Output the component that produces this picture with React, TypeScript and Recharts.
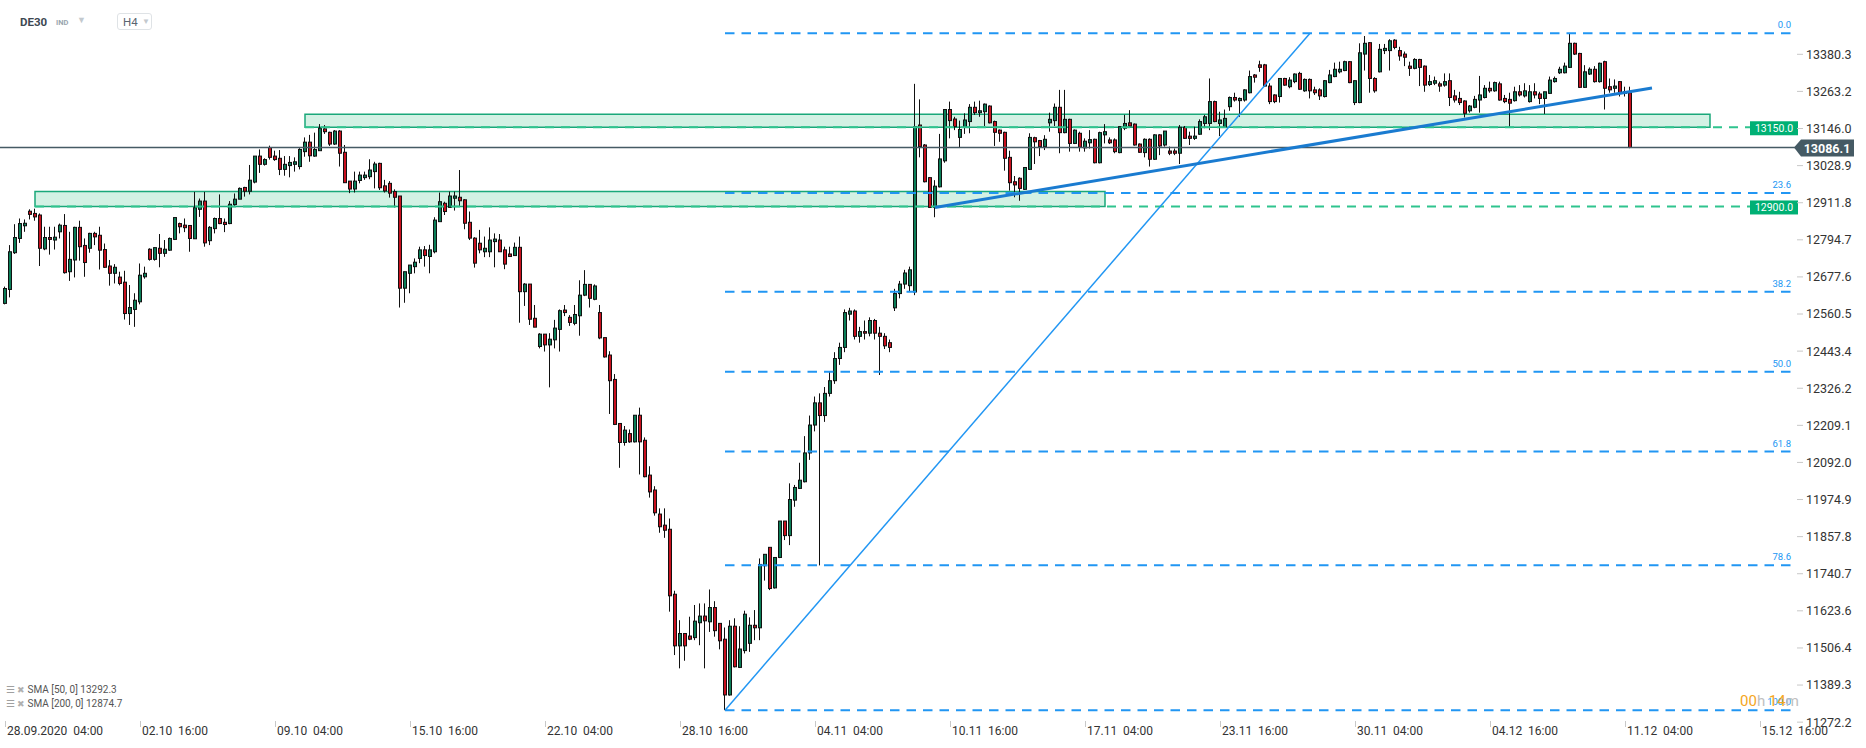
import React from 'react'
import { ComposedChart, Bar, XAxis, YAxis, ReferenceLine, ReferenceArea } from 'recharts'

type Ohlc = [number, number, number, number] // open, high, low, close

// H4 candles, one array per x-axis label interval (27 bars each)
const from2809: Ohlc[] = [
  [12594, 12647, 12591, 12641], [12638, 12778, 12613, 12757], [12754, 12844, 12750, 12802],
  [12799, 12862, 12785, 12846], [12839, 12859, 12820, 12847], [12885, 12891, 12859, 12875],
  [12878, 12893, 12855, 12867], [12873, 12878, 12712, 12768], [12766, 12836, 12762, 12802],
  [12802, 12836, 12748, 12796], [12794, 12836, 12764, 12803], [12820, 12846, 12799, 12841],
  [12840, 12876, 12688, 12691], [12694, 12820, 12665, 12733], [12731, 12836, 12676, 12834],
  [12834, 12855, 12729, 12773], [12777, 12799, 12678, 12723], [12768, 12817, 12754, 12815],
  [12815, 12820, 12778, 12804], [12809, 12836, 12701, 12762], [12764, 12783, 12706, 12708],
  [12712, 12731, 12650, 12689], [12689, 12718, 12657, 12708], [12677, 12694, 12651, 12657],
  [12661, 12697, 12543, 12562], [12562, 12652, 12526, 12581], [12575, 12626, 12520, 12604],
]
const from0210: Ohlc[] = [
  [12599, 12720, 12591, 12683], [12678, 12710, 12672, 12689], [12765, 12768, 12729, 12733],
  [12733, 12771, 12729, 12770], [12768, 12813, 12708, 12752], [12752, 12794, 12741, 12765],
  [12762, 12802, 12760, 12799], [12796, 12865, 12794, 12865], [12846, 12849, 12815, 12836],
  [12841, 12862, 12819, 12833], [12840, 12841, 12757, 12799], [12798, 12946, 12798, 12896],
  [12891, 12925, 12867, 12917], [12917, 12946, 12773, 12785], [12792, 12838, 12778, 12834],
  [12830, 12865, 12815, 12862], [12862, 12938, 12844, 12846], [12850, 12862, 12819, 12843],
  [12846, 12917, 12844, 12907], [12906, 12941, 12899, 12923], [12923, 12960, 12923, 12957],
  [12960, 12962, 12931, 12948], [12948, 13031, 12938, 12983], [12977, 13059, 12973, 13059],
  [13059, 13080, 13006, 13033], [13033, 13052, 13029, 13048], [13086, 13092, 13048, 13055],
]
const from0910: Ohlc[] = [
  [13059, 13076, 13044, 13048], [13052, 13078, 12999, 13017], [13017, 13059, 12997, 13033],
  [13029, 13059, 12992, 13039], [13033, 13055, 13010, 13041], [13026, 13084, 13017, 13080],
  [13073, 13118, 13057, 13103], [13103, 13126, 13041, 13060], [13059, 13133, 13057, 13080],
  [13076, 13160, 13076, 13147], [13145, 13157, 13129, 13136], [13134, 13136, 13091, 13097],
  [13097, 13141, 13094, 13138], [13138, 13141, 13026, 13068], [13071, 13094, 12975, 12975],
  [12980, 12980, 12942, 12955], [12955, 13010, 12944, 12980], [12982, 13010, 12973, 12999],
  [12991, 13010, 12984, 12999], [12994, 13049, 12986, 13015], [13010, 13041, 12957, 13034],
  [13036, 13038, 12952, 12959], [12965, 12984, 12944, 12949], [12973, 12980, 12928, 12942],
  [12947, 12954, 12897, 12929], [12933, 12933, 12581, 12642], [12642, 12694, 12596, 12694],
]
const from1510: Ohlc[] = [
  [12689, 12715, 12626, 12715], [12710, 12736, 12689, 12724], [12736, 12773, 12721, 12763],
  [12763, 12775, 12710, 12745], [12742, 12779, 12689, 12763], [12757, 12866, 12752, 12857],
  [12852, 12944, 12852, 12915], [12910, 12915, 12873, 12884], [12897, 12947, 12897, 12933],
  [12926, 12947, 12887, 12933], [12929, 13015, 12899, 12918], [12921, 12923, 12828, 12847],
  [12850, 12884, 12794, 12800], [12800, 12803, 12707, 12721], [12784, 12826, 12752, 12763],
  [12757, 12805, 12740, 12768], [12757, 12834, 12740, 12794], [12789, 12815, 12708, 12797],
  [12794, 12813, 12757, 12757], [12763, 12773, 12702, 12718], [12750, 12773, 12742, 12742],
  [12745, 12786, 12745, 12771], [12771, 12805, 12533, 12631], [12631, 12658, 12586, 12655],
  [12655, 12655, 12526, 12544], [12547, 12589, 12519, 12519], [12458, 12500, 12452, 12497],
]
const from2210: Ohlc[] = [
  [12497, 12497, 12442, 12463], [12463, 12500, 12329, 12481], [12479, 12542, 12452, 12516],
  [12512, 12575, 12442, 12571], [12573, 12589, 12554, 12565], [12550, 12557, 12523, 12534],
  [12531, 12589, 12525, 12559], [12555, 12667, 12492, 12620], [12620, 12699, 12617, 12654],
  [12654, 12654, 12581, 12610], [12607, 12654, 12604, 12649], [12565, 12589, 12481, 12485],
  [12486, 12486, 12423, 12425], [12431, 12443, 12245, 12350], [12354, 12371, 12210, 12212],
  [12215, 12215, 12075, 12155], [12155, 12207, 12145, 12194], [12183, 12196, 12154, 12157],
  [12157, 12241, 12155, 12241], [12241, 12265, 12054, 12157], [12162, 12171, 12045, 12047],
  [12052, 12080, 11981, 11999], [12005, 12017, 11924, 11933], [11929, 11947, 11870, 11889],
  [11894, 11947, 11854, 11878], [11881, 11915, 11621, 11671], [11676, 11687, 11484, 11513],
]
const from2810: Ohlc[] = [
  [11513, 11594, 11442, 11552], [11552, 11552, 11466, 11513], [11544, 11605, 11531, 11534],
  [11539, 11642, 11531, 11591], [11586, 11647, 11515, 11607], [11607, 11647, 11442, 11592],
  [11589, 11691, 11557, 11634], [11634, 11654, 11542, 11561], [11584, 11584, 11502, 11529],
  [11534, 11571, 11310, 11358], [11358, 11594, 11356, 11575], [11575, 11600, 11445, 11447],
  [11445, 11575, 11443, 11503], [11498, 11624, 11489, 11613], [11521, 11603, 11494, 11578],
  [11578, 11626, 11531, 11570], [11570, 11789, 11531, 11770], [11766, 11802, 11719, 11802],
  [11824, 11824, 11689, 11694], [11696, 11792, 11694, 11792], [11792, 11907, 11790, 11907],
  [11907, 11907, 11847, 11861], [11861, 12026, 11831, 11975], [11973, 12021, 11952, 12013],
  [12010, 12091, 12008, 12036], [12031, 12175, 12029, 12122], [12122, 12240, 12100, 12210],
]
const from0411: Ohlc[] = [
  [12210, 12300, 12190, 12280], [12280, 12310, 11767, 12240], [12240, 12330, 12220, 12310],
  [12310, 12380, 12300, 12350], [12350, 12440, 12340, 12420], [12420, 12470, 12400, 12455],
  [12455, 12575, 12440, 12565], [12560, 12580, 12540, 12570], [12570, 12575, 12480, 12490],
  [12490, 12520, 12470, 12505], [12505, 12540, 12480, 12500], [12500, 12550, 12490, 12540],
  [12540, 12545, 12480, 12500], [12500, 12520, 12368, 12490], [12490, 12500, 12450, 12460],
  [12470, 12480, 12440, 12455], [12580, 12640, 12570, 12625], [12625, 12665, 12610, 12655],
  [12655, 12700, 12640, 12690], [12650, 12710, 12630, 12700], [12630, 13287, 12620, 13152],
  [13157, 13238, 13055, 13089], [13094, 13097, 12976, 12978], [12991, 12993, 12895, 12897],
  [12897, 12983, 12866, 12964], [12962, 13129, 12960, 13050], [13044, 13206, 13038, 13206],
]
const from1011: Ohlc[] = [
  [13206, 13231, 13115, 13171], [13176, 13183, 13141, 13152], [13118, 13171, 13087, 13143],
  [13150, 13194, 13129, 13173], [13168, 13223, 13131, 13213], [13213, 13231, 13189, 13196],
  [13196, 13234, 13183, 13202], [13199, 13225, 13154, 13223], [13217, 13219, 13162, 13164],
  [13168, 13171, 13091, 13134], [13141, 13143, 13104, 13131], [13134, 13136, 13013, 13052],
  [13055, 13076, 12950, 12975], [12978, 12996, 12929, 12968], [12989, 12992, 12918, 12957],
  [12954, 13023, 12952, 13023], [13017, 13131, 13015, 13118], [13117, 13120, 13034, 13104],
  [13108, 13110, 13059, 13089], [13089, 13125, 13078, 13112], [13164, 13196, 13136, 13175],
  [13171, 13225, 13154, 13213], [13213, 13268, 13068, 13133], [13133, 13268, 13131, 13175],
  [13175, 13177, 13073, 13099], [13099, 13143, 13097, 13141], [13131, 13136, 13073, 13087],
]
const from1711: Ohlc[] = [
  [13085, 13115, 13073, 13106], [13101, 13141, 13083, 13111], [13112, 13114, 13036, 13038],
  [13038, 13136, 13036, 13133], [13126, 13160, 13099, 13136], [13110, 13118, 13097, 13101],
  [13110, 13115, 13068, 13073], [13070, 13154, 13068, 13152], [13147, 13189, 13141, 13162],
  [13164, 13204, 13150, 13154], [13160, 13162, 13092, 13094], [13097, 13099, 13069, 13071],
  [13070, 13115, 13055, 13112], [13112, 13115, 13026, 13049], [13049, 13128, 13047, 13126],
  [13126, 13128, 13062, 13091], [13094, 13138, 13089, 13138], [13075, 13089, 13062, 13068],
  [13075, 13083, 13062, 13068], [13068, 13157, 13034, 13150], [13150, 13154, 13113, 13115],
  [13122, 13136, 13094, 13115], [13115, 13152, 13110, 13122], [13128, 13175, 13126, 13168],
  [13162, 13189, 13147, 13183], [13162, 13304, 13141, 13231], [13231, 13234, 13166, 13168],
]
const from2311: Ohlc[] = [
  [13162, 13199, 13122, 13173], [13152, 13206, 13150, 13178], [13215, 13247, 13202, 13244],
  [13244, 13259, 13231, 13236], [13234, 13244, 13183, 13241], [13236, 13270, 13231, 13268],
  [13259, 13329, 13257, 13310], [13315, 13318, 13291, 13308], [13347, 13360, 13325, 13339],
  [13347, 13350, 13278, 13280], [13280, 13289, 13223, 13231], [13252, 13254, 13226, 13231],
  [13247, 13304, 13228, 13304], [13304, 13306, 13281, 13283], [13278, 13308, 13273, 13299],
  [13294, 13320, 13289, 13318], [13320, 13325, 13268, 13270], [13265, 13304, 13262, 13301],
  [13301, 13304, 13241, 13265], [13268, 13278, 13252, 13259], [13268, 13273, 13236, 13249],
  [13247, 13299, 13244, 13297], [13291, 13331, 13289, 13315], [13310, 13354, 13308, 13333],
  [13325, 13357, 13320, 13333], [13329, 13360, 13327, 13357], [13357, 13359, 13289, 13291],
]
const from3011: Ohlc[] = [
  [13228, 13297, 13220, 13297], [13228, 13415, 13226, 13385], [13381, 13438, 13329, 13415],
  [13417, 13419, 13259, 13304], [13304, 13308, 13259, 13265], [13325, 13413, 13323, 13396],
  [13392, 13413, 13381, 13399], [13392, 13428, 13329, 13423], [13425, 13428, 13396, 13402],
  [13392, 13404, 13360, 13375], [13381, 13389, 13343, 13371], [13343, 13357, 13312, 13336],
  [13336, 13368, 13333, 13364], [13364, 13366, 13280, 13339], [13343, 13345, 13262, 13283],
  [13285, 13315, 13280, 13294], [13289, 13310, 13283, 13297], [13287, 13294, 13262, 13280],
  [13283, 13320, 13278, 13294], [13297, 13320, 13217, 13244], [13249, 13268, 13228, 13236],
  [13241, 13262, 13220, 13228], [13233, 13235, 13181, 13194], [13202, 13220, 13196, 13217],
  [13213, 13249, 13210, 13238], [13236, 13312, 13196, 13252], [13244, 13283, 13241, 13273],
]
const from0412: Ohlc[] = [
  [13273, 13294, 13259, 13265], [13265, 13294, 13262, 13291], [13287, 13294, 13234, 13236],
  [13241, 13252, 13226, 13231], [13238, 13259, 13152, 13226], [13234, 13278, 13231, 13262],
  [13262, 13283, 13247, 13252], [13249, 13289, 13244, 13265], [13231, 13283, 13228, 13262],
  [13262, 13289, 13241, 13252], [13255, 13262, 13223, 13241], [13241, 13262, 13192, 13262],
  [13257, 13310, 13255, 13299], [13294, 13310, 13291, 13304], [13322, 13341, 13318, 13333],
  [13322, 13354, 13320, 13343], [13339, 13447, 13337, 13415], [13415, 13417, 13378, 13381],
  [13383, 13385, 13274, 13276], [13276, 13346, 13274, 13325], [13318, 13339, 13315, 13333],
  [13333, 13343, 13291, 13294], [13294, 13354, 13291, 13352], [13357, 13360, 13206, 13273],
  [13278, 13304, 13259, 13268], [13273, 13301, 13259, 13280], [13294, 13296, 13247, 13259],
]
const from1112: Ohlc[] = [
  [13257, 13278, 13247, 13262], [13259, 13278, 13084, 13086.1],
]

const candles = [
  from2809, from0210, from0910, from1510, from2210, from2810, from0411,
  from1011, from1711, from2311, from3011, from0412, from1112,
].flat().map(([o, h, l, c], i) => ({ i, o, h, l, c }))

const xTicks = [0, 27, 54, 81, 108, 135, 162, 189, 216, 243, 270, 297, 324, 351]
const xTickLabels = [
  '28.09.2020  04:00', '02.10  16:00', '09.10  04:00', '15.10  16:00', '22.10  04:00',
  '28.10  16:00', '04.11  04:00', '10.11  16:00', '17.11  04:00', '23.11  16:00',
  '30.11  04:00', '04.12  16:00', '11.12  04:00', '15.12  16:00',
]
const yTicks = [
  11272.2, 11389.3, 11506.4, 11623.6, 11740.7, 11857.8, 11974.9, 12092.0, 12209.1, 12326.2,
  12443.4, 12560.5, 12677.6, 12794.7, 12911.8, 13028.9, 13146.0, 13263.2, 13380.3,
]

const lastPrice = 13086.1
const fibHigh = 13447
const fibLow = 11310
const fibLowBar = 144
const fibHighBar = 261
const fibLevels = [0, 23.6, 38.2, 50, 61.8, 78.6, 100]

// support / resistance zones: [fromBar, toBar, bottom, top]
const zones: [number, number, number, number][] = [
  [60, 341, 13150, 13191],
  [6, 220, 12900, 12947],
]
const levelEndBar = 349

const trendFrom = { x: 186, y: 12897 }
const trendTo = { x: 329.4, y: 13274 }

const sma = ['SMA [50, 0] 13292.3', 'SMA [200, 0] 12874.7']

const GREEN = '#0a7d57'
const RED = '#c8101e'
const FIB = '#2196f3'
const ZONE = '#1aa87a'

const Candle = (props: any) => {
  const { x, y, width, height, payload } = props
  const { o, h, l, c } = payload
  const top = Math.min(y, y + height)
  const bot = Math.max(y, y + height)
  const k = h > l ? (bot - top) / (h - l) : 0
  const at = (v: number) => top + (h - v) * k
  const cx = Math.round(x + width / 2)
  const bTop = at(Math.max(o, c))
  const bBot = at(Math.min(o, c))
  return (
    <g>
      <line x1={cx - 0.5} x2={cx - 0.5} y1={top} y2={bot} stroke="#111" strokeWidth={1} />
      <rect
        x={cx - 1.5}
        y={bTop}
        width={3}
        height={Math.max(1, bBot - bTop)}
        fill={c >= o ? GREEN : RED}
        stroke="#111"
        strokeWidth={1}
      />
    </g>
  )
}

const XTick = ({ x, y, payload }: any) => {
  const idx = xTicks.indexOf(payload.value)
  return (
    <g>
      <line x1={x + 0.5} x2={x + 0.5} y1={y - 4} y2={y + 2} stroke="#c8c8c8" />
      <text x={x + 2} y={y + 10} fontSize={12} fill="#333" style={{ whiteSpace: 'pre' }}>
        {xTickLabels[idx]}
      </text>
    </g>
  )
}

const FibLabel = ({ viewBox, text }: any) => (
  <text x={viewBox.x + viewBox.width - 6} y={viewBox.y - 5} textAnchor="end" fontSize={9.5} fill={FIB}>
    {text}
  </text>
)

const LevelBadge = ({ viewBox, text }: any) => {
  const x = viewBox.x + viewBox.width
  const y = viewBox.y
  return (
    <g>
      <rect x={x} y={y - 6} width={48} height={14} fill="#00b074" />
      <text x={x + 24} y={y + 4.5} textAnchor="middle" fontSize={10.5} fill="#fff">{text}</text>
    </g>
  )
}

const PriceBadge = ({ viewBox }: any) => {
  const x = viewBox.x + viewBox.width - 3
  const y = viewBox.y
  return (
    <g>
      <polygon
        points={`${x},${y} ${x + 7},${y - 8} ${x + 60},${y - 8} ${x + 60},${y + 9} ${x + 7},${y + 9}`}
        fill="#455a64"
      />
      <text x={x + 33} y={y + 5} textAnchor="middle" fontSize={12.5} fontWeight="bold" fill="#fff">
        {lastPrice.toFixed(1)}
      </text>
    </g>
  )
}

export default function App() {
  return (
    <div
      style={{
        position: 'absolute',
        left: 0,
        top: 0,
        width: 1866,
        height: 748,
        background: '#fff',
        fontFamily: 'Roboto, sans-serif',
        overflow: 'hidden',
      }}
    >
      <ComposedChart width={1866} height={748} data={candles} margin={{ top: 0, right: 0, bottom: 0, left: 0 }}>
        <XAxis
          dataKey="i"
          type="number"
          domain={[-1, 358.4]}
          ticks={xTicks}
          tick={<XTick />}
          tickLine={false}
          axisLine={false}
          tickSize={0}
          tickMargin={0}
          height={23}
          allowDataOverflow
        />
        <YAxis
          orientation="right"
          type="number"
          domain={[11263.2, 13551.7]}
          ticks={yTicks}
          tickFormatter={(v: number) => v.toFixed(1)}
          tick={{ fontSize: 12.5, fill: '#333' }}
          tickLine={{ stroke: '#c8c8c8' }}
          tickSize={6}
          tickMargin={3}
          axisLine={false}
          width={69}
          allowDataOverflow
        />

        {zones.map(([x1, x2, y1, y2], k) => (
          <ReferenceArea
            key={'z' + k}
            x1={x1}
            x2={x2}
            y1={y1}
            y2={y2}
            fill="#d3f1e4"
            fillOpacity={1}
            stroke={ZONE}
            strokeWidth={1.5}
            ifOverflow="visible"
          />
        ))}

        {fibLevels.map((p) => {
          const v = fibHigh - (p / 100) * (fibHigh - fibLow)
          return (
            <ReferenceLine
              key={'f' + p}
              segment={[{ x: fibLowBar, y: v }, { x: 358.4, y: v }]}
              stroke={FIB}
              strokeWidth={2}
              strokeDasharray="9.5 7"
              ifOverflow="visible"
              label={(lp: any) => <FibLabel {...lp} text={p.toFixed(1)} />}
            />
          )
        })}

        {zones.map(([x1, , y1], k) => (
          <ReferenceLine
            key={'l' + k}
            segment={[{ x: x1, y: y1 }, { x: levelEndBar, y: y1 }]}
            stroke="#2fc48e"
            strokeWidth={2}
            strokeDasharray="9 7"
            ifOverflow="visible"
            label={(lp: any) => <LevelBadge {...lp} text={y1.toFixed(1)} />}
          />
        ))}

        <ReferenceLine
          y={lastPrice}
          stroke="#455a64"
          strokeWidth={1.5}
          ifOverflow="visible"
          label={(lp: any) => <PriceBadge {...lp} />}
        />

        <Bar dataKey={(d: any) => [d.l, d.h]} barSize={4} shape={<Candle />} isAnimationActive={false} />

        <ReferenceLine
          segment={[{ x: fibLowBar, y: fibLow }, { x: fibHighBar, y: fibHigh }]}
          stroke={FIB}
          strokeWidth={1.5}
          ifOverflow="visible"
        />
        <ReferenceLine
          segment={[trendFrom, trendTo]}
          stroke="#1a7bd0"
          strokeWidth={3}
          ifOverflow="visible"
        />
      </ComposedChart>

      {/* header */}
      <div style={{ position: 'absolute', left: 20, top: 15, fontSize: 11.5, fontWeight: 700, color: '#3d4852' }}>
        DE30
      </div>
      <div style={{ position: 'absolute', left: 56, top: 18, fontSize: 7.5, fontWeight: 700, color: '#9aa5ae' }}>
        IND
      </div>
      <div style={{ position: 'absolute', left: 77, top: 15, fontSize: 9, color: '#c3c9ce' }}>▼</div>
      <div
        style={{
          position: 'absolute',
          left: 117,
          top: 13,
          width: 35,
          height: 17,
          border: '1px solid #dfe3e6',
          borderRadius: 3,
          boxSizing: 'border-box',
        }}
      >
        <span style={{ position: 'absolute', left: 5, top: 1, fontSize: 11.5, color: '#5a6570' }}>H4</span>
        <span style={{ position: 'absolute', left: 24, top: 3, fontSize: 8, color: '#c3c9ce' }}>▼</span>
      </div>

      {/* indicators legend */}
      {sma.map((s, k) => (
        <div
          key={s}
          style={{ position: 'absolute', left: 6, top: 684 + k * 14, fontSize: 10, color: '#555', whiteSpace: 'pre' }}
        >
          <span style={{ color: '#a0a0a0', fontSize: 10 }}>☰</span>
          <span style={{ color: '#b0b0b0', fontSize: 9 }}> ✖ </span>
          {s}
        </div>
      ))}

      {/* candle timer */}
      <div style={{ position: 'absolute', left: 1740, top: 692, fontSize: 15, whiteSpace: 'pre' }}>
        <span style={{ color: '#f5a623' }}>00</span>
        <span style={{ color: '#c0c0c0' }}>h </span>
        <span style={{ color: '#f5a623' }}>14</span>
        <span style={{ color: '#c0c0c0' }}>m</span>
      </div>
    </div>
  )
}
